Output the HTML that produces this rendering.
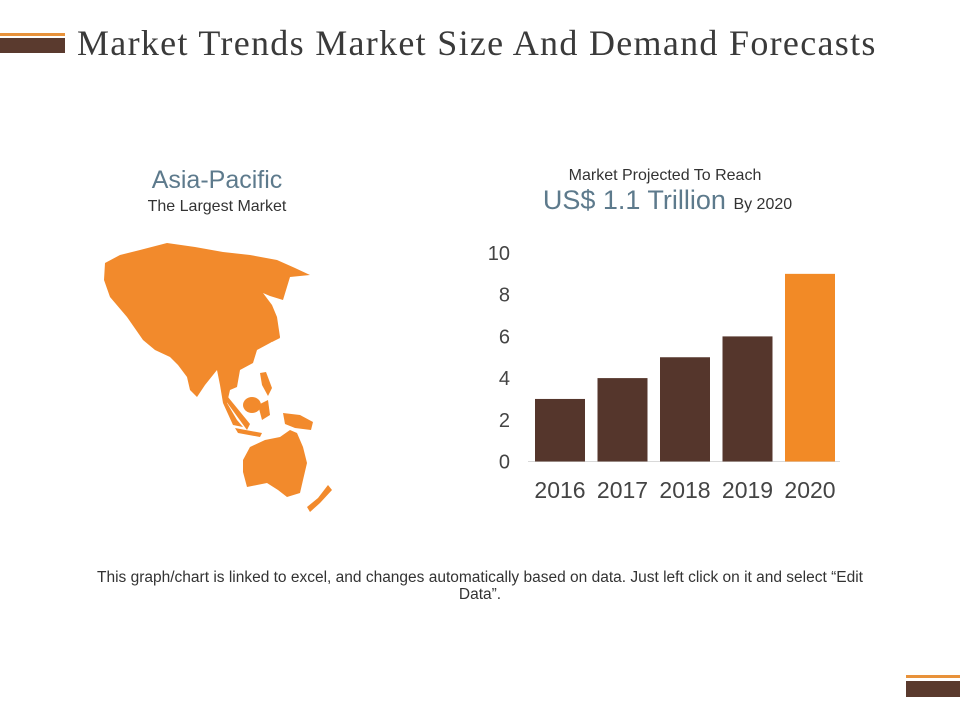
<!DOCTYPE html>
<html><head><meta charset="utf-8"><style>
body{margin:0;width:960px;height:720px;background:#fff;position:relative;overflow:hidden;font-family:"Liberation Sans",sans-serif}
.abs{position:absolute}
</style></head><body>
<div class="abs" style="left:0;top:33px;width:65px;height:3px;background:#e8923a"></div>
<div class="abs" style="left:0;top:38px;width:65px;height:15px;background:#5a3a2e"></div>
<div class="abs" style="left:77px;top:22px;font-family:'Liberation Serif',serif;font-size:36px;letter-spacing:1.3px;color:#3a3a3a;white-space:nowrap">Market Trends Market Size And Demand Forecasts</div>
<div class="abs" style="left:117px;top:166px;width:200px;text-align:center;font-size:25px;color:#5d7a8c">Asia-Pacific</div>
<div class="abs" style="left:117px;top:198px;width:200px;text-align:center;font-size:16px;color:#333">The Largest Market</div>
<svg class="abs" style="left:0;top:0" width="960" height="720">
<g fill="#f28a2c">
<polygon points="105,263 120,255 140,250 167,243 195,247 223,252 250,255 277,260 295,268 310,275 290,277 283,300 270,296 263,293 272,305 277,317 280,337 270,343 257,350 253,363 240,370 237,387 230,390 227,403 237,420 243,427 233,425 223,403 220,385 217,370 205,385 197,397 190,390 187,377 178,365 170,357 155,350 143,340 127,317 110,297 104,280"/>
<polygon points="250,447 265,440 280,437 290,430 297,433 303,447 307,463 303,480 300,493 287,497 278,490 267,483 257,485 247,487 243,472 243,460"/>
<ellipse cx="252" cy="405" rx="9" ry="8"/>
<polygon points="223,397 228,397 250,424 247,430"/>
<polygon points="283,413 300,415 313,422 311,430 295,428 285,424"/>
<polygon points="307,507 318,498 328,485 332,490 320,503 310,512"/>
<polygon points="260,373 266,372 272,388 268,396 262,385"/>
<polygon points="270,330 276,320 280,338 272,342"/>
<polygon points="258,405 268,400 270,415 262,420"/>
<polygon points="235,428 262,433 260,437 238,433"/>
</g>
</svg>
<div class="abs" style="left:505px;top:167px;width:320px;text-align:center;font-size:16px;color:#333">Market Projected To Reach</div>
<div class="abs" style="left:480px;top:185px;width:375px;text-align:center;font-size:27px;color:#5d7a8c;white-space:nowrap">US$ 1.1 Trillion <span style="font-size:16px;color:#333">By 2020</span></div>
<svg id="chart" class="abs" style="left:0;top:0" width="960" height="720"></svg>
<div class="abs" style="left:82px;top:569px;width:796px;text-align:center;font-size:15.5px;line-height:17px;color:#333">This graph/chart is linked to excel, and changes automatically based on data. Just left click on it and select “Edit Data”.</div>
<div class="abs" style="left:906px;top:675px;width:54px;height:3px;background:#e8923a"></div>
<div class="abs" style="left:906px;top:681px;width:54px;height:16px;background:#5a3a2e"></div>
<script>
const categories=["2016","2017","2018","2019","2020"];
const values=[3,4,5,6,9];
const yTicks=[0,2,4,6,8,10];
const highlight=[false,false,false,false,true];
const NS="http://www.w3.org/2000/svg";
const svg=document.getElementById('chart');
const y0=461.5,pxPer=20.85,x0=535,step=62.5,bw=50;
const y=v=>y0-v*pxPer;
const x=i=>x0+i*step;
function mk(t,a){const e=document.createElementNS(NS,t);for(const k in a)e.setAttribute(k,a[k]);svg.appendChild(e);return e;}
const base=mk('line',{x1:528,x2:840,y1:y0,y2:y0,stroke:'#d9d9d9','stroke-width':1});


yTicks.forEach(t=>{const e=mk('text',{x:510,y:y(t)+7,'text-anchor':'end','font-size':20,fill:'#444','font-family':'Liberation Sans, sans-serif'});e.textContent=t;

});
values.forEach((v,i)=>{const r=mk('rect',{x:x(i),y:y(v),width:bw,height:v*pxPer,fill:highlight[i]?'#f28a26':'#55362c'});


const t=mk('text',{x:x(i)+bw/2,y:498,'text-anchor':'middle','font-size':23,fill:'#444','font-family':'Liberation Sans, sans-serif'});t.textContent=categories[i];

});
</script>
</body></html>
